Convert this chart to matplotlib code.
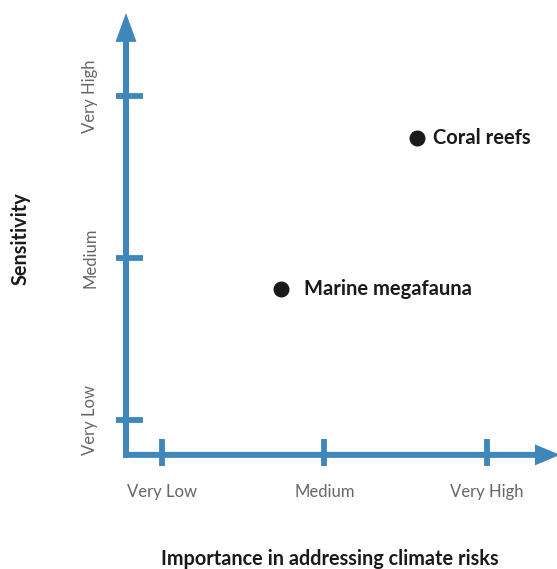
import matplotlib
matplotlib.use('Agg')
import matplotlib.pyplot as plt

# Chart data
levels = [1, 2, 3]
level_names = ['Very Low', 'Medium', 'Very High']
items = ['Coral reefs', 'Marine megafauna']
importance = [2.57, 1.73]
sensitivity = [2.74, 1.81]
label_gap = [11.5, 16.5]  # points between dot and its label

blue = '#3f87ba'
grey = '#666666'
plt.rcParams['font.family'] = ['Lato', 'DejaVu Sans']

fw, fh = 5.57, 5.69
fig = plt.figure(figsize=(fw, fh), dpi=100)
ax = fig.add_axes([0, 0, 1, 1])
ax.set_xlim(0.003, 3.431)
ax.set_ylim(0.080, 3.593)
ax.axis('off')

px = 1 / 162.5  # one pixel in data units
x0, y0 = 1 - 36 * px, 1 - 35 * px  # axis origin
lw = 6 * px

# axes as arrows
ax.arrow(x0, y0 - lw / 2, 0, 3.593 - 13 * px - (y0 - lw / 2), width=lw,
         head_width=21 * px, head_length=29 * px, length_includes_head=True,
         color=blue, lw=0)
ax.arrow(x0 - lw / 2, y0, 3.431 + 3 * px - (x0 - lw / 2), 0, width=lw,
         head_width=21 * px, head_length=25 * px, length_includes_head=True,
         color=blue, lw=0)

# ticks
for v in levels:
    ax.plot([x0 - 10 * px, x0 + 17 * px], [v, v], color=blue, lw=4.2,
            solid_capstyle='butt')
    ax.plot([v, v], [y0 - 11 * px, y0 + 16 * px], color=blue, lw=4.2,
            solid_capstyle='butt')

# tick labels
for v, name in zip(levels, level_names):
    ax.text(v, y0 - 37 * px, name, ha='center', va='center', fontsize=12,
            color=grey)
    ax.text(x0 - 36 * px, v, name, ha='center', va='center', fontsize=12,
            color=grey, rotation=90)

# points
ax.plot(importance, sensitivity, 'o', color='#1a1a1a', markersize=10.5)
for x, y, name, gap in zip(importance, sensitivity, items, label_gap):
    ax.annotate(name, (x, y), xytext=(gap, 0), textcoords='offset points',
                ha='left', va='center', fontsize=14.5, fontweight='bold',
                color='#1a1a1a')

# axis titles
fig.text(21 / 557, 1 - 239 / 569, 'Sensitivity', rotation=90, ha='center',
         va='center', fontsize=14.3, fontweight='bold', color='#1a1a1a')
fig.text(330 / 557, 1 - 559 / 569, 'Importance in addressing climate risks',
         ha='center', va='center', fontsize=14.3, fontweight='bold',
         color='#1a1a1a')

plt.savefig('out.png', dpi=100)
